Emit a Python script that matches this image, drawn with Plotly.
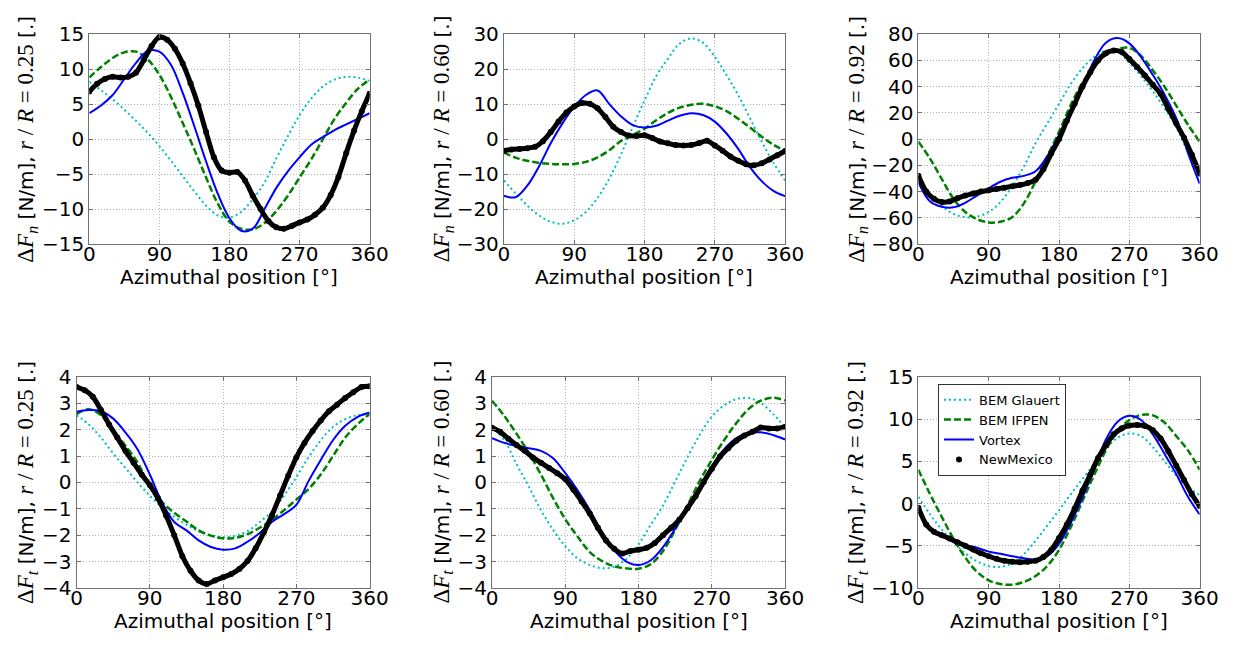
import plotly.graph_objects as go

# ---------------- data ----------------
theta_model = [0, 15, 30, 45, 60, 75, 90, 105, 120, 135, 150, 165, 180,
               195, 210, 225, 240, 255, 270, 285, 300, 315, 330, 345, 360]
theta_exp = [0, 10, 20, 30, 40, 50, 60, 70, 80, 90, 100, 110, 120, 130, 140,
             150, 160, 170, 180, 190, 200, 210, 220, 230, 240, 250, 260, 270,
             280, 290, 300, 310, 320, 330, 340, 350, 360]
xticks = [0, 90, 180, 270, 360]
series_names = ["BEM Glauert", "BEM IFPEN", "Vortex", "NewMexico"]

# Panel 1: dFn, r/R = 0.25
fn25_glauert = [8.2, 7.0, 5.7, 4.2, 2.6, 0.9, -1.0, -3.1, -5.3, -7.5, -9.5, -10.9, -11.2,
                -10.4, -8.6, -6.2, -2.8, 0.4, 3.4, 5.8, 7.5, 8.5, 8.9, 8.8, 8.3]
fn25_ifpen = [8.8, 10.3, 11.6, 12.4, 12.5, 11.4, 9.2, 6.0, 2.3, -1.5, -5.5, -9.2, -11.8,
              -12.8, -12.9, -12.0, -10.3, -8.1, -5.5, -2.9, 0.0, 2.9, 5.2, 7.2, 8.5]
fn25_vortex = [3.7, 4.8, 6.3, 8.6, 10.9, 12.6, 12.5, 10.6, 6.6, 1.8, -3.2, -7.8, -11.3,
               -13.1, -12.8, -10.0, -7.0, -4.6, -2.6, -0.8, 0.3, 1.3, 2.1, 2.9, 3.7]
fn25_exp = [6.8, 7.9, 8.6, 8.9, 8.8, 8.9, 9.5, 11.3, 13.3, 14.6, 14.2, 12.9, 10.8, 8.0, 4.8,
            1.0, -2.6, -4.5, -4.8, -4.7, -5.9, -8.1, -10.0, -11.7, -12.6, -12.8, -12.4,
            -11.9, -11.5, -10.8, -9.8, -8.0, -5.4, -2.0, 1.2, 4.0, 6.5]

# Panel 2: dFn, r/R = 0.60
fn60_glauert = [-11.8, -15.5, -19.0, -21.8, -23.6, -24.2, -23.2, -20.8, -16.8, -11.3, -4.3,
                3.5, 11.0, 18.0, 23.0, 27.3, 28.8, 27.5, 23.5, 18.3, 12.6, 6.0, -0.7, -6.8, -11.8]
fn60_ifpen = [-3.8, -5.3, -6.2, -6.8, -7.1, -7.2, -7.1, -6.5, -5.2, -3.2, -0.5, 1.2, 3.0,
              5.4, 7.5, 9.0, 9.8, 10.1, 9.4, 8.0, 5.8, 3.3, 0.7, -1.6, -3.4]
fn60_vortex = [-16.2, -16.6, -13.3, -7.8, -1.2, 4.5, 9.2, 12.6, 13.9, 10.0, 6.5, 4.0, 3.3,
               3.8, 5.3, 6.7, 7.4, 6.9, 5.0, 1.6, -2.8, -8.0, -12.0, -14.8, -16.3]
fn60_exp = [-3.3, -3.0, -2.8, -2.6, -2.2, -0.6, 2.0, 5.0, 7.6, 9.3, 10.3, 10.1, 8.8, 6.3,
            3.5, 2.0, 1.0, 0.9, 1.1, 0.3, -0.7, -1.2, -1.7, -1.8, -1.7, -1.1, -0.5, -1.8,
            -3.3, -5.0, -6.2, -7.2, -7.5, -6.9, -5.8, -4.6, -3.4]

# Panel 3: dFn, r/R = 0.92
fn92_glauert = [-30, -42, -51, -57, -59.5, -59, -55.5, -48, -36, -21, -3, 12, 27,
                42, 54, 62.5, 67.5, 66.5, 58, 48, 36.5, 23.5, 9, -10, -29]
fn92_ifpen = [-2, -15, -30.5, -45.5, -55.5, -61, -63.5, -63, -59.5, -49, -32, -13, 5.5,
              26, 43, 56, 64, 68.5, 69.5, 63.5, 52.5, 40, 25.5, 11, -2]
fn92_vortex = [-33, -47.5, -51.5, -52, -48.5, -43, -37.5, -32.5, -29.5, -28, -24.5, -13, 3,
               20, 40, 60, 73.5, 77, 73, 62.5, 49, 34, 16, -10.5, -34]
fn92_exp = [-28, -40, -45.5, -48, -47.5, -45, -43, -41.5, -40, -39, -38, -37, -36, -35,
            -33.5, -31, -23, -11, 0, 14, 27, 40, 51, 60, 65.5, 67.5, 66.5, 61, 55, 48.5,
            41.5, 34.5, 23, 12, 1, -12, -26]

# Panel 4: dFt, r/R = 0.25
ft25_glauert = [2.55, 2.2, 1.7, 1.1, 0.55, 0.0, -0.5, -0.95, -1.3, -1.6, -1.85, -2.0, -2.08,
                -2.02, -1.85, -1.5, -1.1, -0.5, 0.2, 0.95, 1.6, 2.1, 2.4, 2.55, 2.6]
ft25_ifpen = [2.6, 2.78, 2.55, 1.95, 1.4, 0.75, -0.15, -0.75, -1.15, -1.48, -1.82, -2.02, -2.12,
              -2.1, -1.96, -1.72, -1.42, -1.05, -0.65, -0.25, 0.3, 1.0, 1.7, 2.2, 2.6]
ft25_vortex = [2.68, 2.75, 2.7, 2.42, 1.9, 1.25, 0.3, -0.75, -1.5, -1.82, -2.2, -2.45, -2.55,
               -2.5, -2.25, -1.92, -1.5, -1.2, -0.85, 0.05, 0.85, 1.6, 2.15, 2.48, 2.65]
ft25_exp = [3.62, 3.5, 3.25, 2.75, 2.2, 1.7, 1.2, 0.75, 0.3, -0.1, -0.6, -1.25, -2.0, -2.8,
            -3.35, -3.72, -3.85, -3.72, -3.6, -3.47, -3.28, -2.98, -2.5, -1.9, -1.25, -0.5,
            0.25, 0.95, 1.5, 1.95, 2.35, 2.7, 2.95, 3.2, 3.42, 3.62, 3.65]

# Panel 5: dFt, r/R = 0.60
ft60_glauert = [2.1, 1.6, 0.7, -0.15, -1.05, -1.8, -2.42, -2.88, -3.13, -3.25, -3.2, -2.9, -2.35,
                -1.6, -0.88, 0.04, 0.95, 1.8, 2.5, 2.92, 3.16, 3.2, 3.02, 2.6, 2.1]
ft60_ifpen = [3.1, 2.52, 1.85, 1.12, 0.3, -0.6, -1.4, -2.05, -2.64, -2.98, -3.18, -3.26, -3.27,
              -3.1, -2.6, -1.8, -0.88, 0.05, 0.86, 1.6, 2.25, 2.78, 3.1, 3.21, 3.11]
ft60_vortex = [1.68, 1.5, 1.38, 1.3, 1.2, 0.92, 0.35, -0.3, -1.05, -1.9, -2.58, -3.0, -3.13,
               -2.95, -2.45, -1.75, -0.95, -0.2, 0.6, 1.25, 1.68, 1.86, 1.9, 1.8, 1.63]
ft60_exp = [2.07, 1.92, 1.66, 1.42, 1.2, 0.95, 0.75, 0.55, 0.35, 0.12, -0.28, -0.72, -1.18,
            -1.72, -2.2, -2.52, -2.7, -2.6, -2.55, -2.48, -2.3, -2.0, -1.72, -1.42, -0.98,
            -0.52, 0.02, 0.52, 0.98, 1.3, 1.58, 1.78, 1.92, 2.08, 2.05, 2.05, 2.1]

# Panel 6: dFt, r/R = 0.92
ft92_glauert = [0.8, -1.3, -3.1, -4.6, -5.9, -6.85, -7.4, -7.5, -7.1, -6.0, -4.4, -2.6, -0.8,
                1.1, 2.9, 4.7, 6.5, 7.8, 8.3, 8.0, 6.7, 5.0, 3.3, 2.0, 1.0]
ft92_ifpen = [4.0, 1.1, -1.6, -4.2, -6.4, -8.1, -9.1, -9.55, -9.62, -9.3, -8.6, -7.4, -5.5,
              -2.8, 0.3, 3.4, 6.3, 8.6, 9.9, 10.5, 10.45, 9.6, 8.0, 6.3, 4.0]
ft92_vortex = [-1.0, -2.8, -3.9, -4.45, -4.9, -5.25, -5.7, -5.95, -6.25, -6.5, -6.65, -6.25, -4.8,
               -2.3, 0.7, 4.1, 7.6, 9.7, 10.4, 9.9, 8.2, 5.9, 3.5, 0.8, -1.3]
ft92_exp = [-0.5, -2.5, -3.35, -3.75, -4.15, -4.6, -5.0, -5.45, -5.9, -6.25, -6.55, -6.78,
            -6.9, -6.95, -6.9, -6.78, -6.35, -5.5, -4.1, -2.5, -0.6, 1.5, 3.4, 5.4, 6.9, 8.2,
            8.9, 9.25, 9.3, 9.2, 8.7, 7.7, 6.2, 4.5, 2.8, 1.1, -0.3]

comp_labels = ["n", "n", "n", "t", "t", "t"]
rr_labels = ["0.25", "0.60", "0.92", "0.25", "0.60", "0.92"]
y_ranges = [[-15, 15], [-30, 30], [-80, 80], [-4, 4], [-4, 4], [-10, 15]]
y_dticks = [5, 10, 20, 1, 1, 5]
panel_data = [
    (fn25_glauert, fn25_ifpen, fn25_vortex, fn25_exp),
    (fn60_glauert, fn60_ifpen, fn60_vortex, fn60_exp),
    (fn92_glauert, fn92_ifpen, fn92_vortex, fn92_exp),
    (ft25_glauert, ft25_ifpen, ft25_vortex, ft25_exp),
    (ft60_glauert, ft60_ifpen, ft60_vortex, ft60_exp),
    (ft92_glauert, ft92_ifpen, ft92_vortex, ft92_exp),
]

# ---------------- layout geometry (pixels) ----------------
W, H = 1251, 649
boxes = [  # left, right, top, bottom
    (85, 371, 23, 241), (508, 795, 23, 241), (931, 1218, 23, 241),
    (72, 371, 379, 598), (496, 795, 379, 598), (931, 1218, 379, 598),
]
ytitle_offset = [63, 62, 62, 50, 50, 62]

FONT = "DejaVu Sans"
SERIF = "Liberation Serif"
frame_col = "#707070"

fig = go.Figure()
layout = dict(
    width=W, height=H, margin=dict(l=0, r=0, t=0, b=0),
    paper_bgcolor="white", plot_bgcolor="white",
    font=dict(family=FONT, size=20, color="black"),
    legend=dict(x=951 / W, y=1 - 386 / H, xanchor="left", yanchor="top",
                bgcolor="white", bordercolor="#333333", borderwidth=1,
                font=dict(family=FONT, size=13, color="black"),
                tracegroupgap=0, itemwidth=30),
)
annotations = []

for i in range(6):
    k = i + 1
    l, r, t, b = boxes[i]
    xa = "x" if k == 1 else f"x{k}"
    ya = "y" if k == 1 else f"y{k}"
    axis_common = dict(showgrid=True, gridcolor="#b4b4b4", griddash="1px,2px", gridwidth=1,
                       showline=True, linecolor=frame_col, linewidth=1, mirror="ticks",
                       ticks="inside", ticklen=4, tickcolor=frame_col, zeroline=False,
                       tickfont=dict(family=FONT, size=20, color="black"))
    layout[f"xaxis{k}"] = dict(domain=[l / W, r / W], anchor=ya, range=[0, 360],
                               tickmode="array", tickvals=xticks, ticklabelstandoff=-8,
                               **axis_common)
    layout[f"yaxis{k}"] = dict(domain=[1 - b / H, 1 - t / H], anchor=xa,
                               range=y_ranges[i], dtick=y_dticks[i], tick0=0, **axis_common)

    g, f, v, e = panel_data[i]
    show = (k == 6)
    fig.add_trace(go.Scatter(x=theta_model, y=g, xaxis=xa, yaxis=ya, mode="lines",
                             name=series_names[0], showlegend=show, legendgroup="g",
                             line=dict(color="#00BFBF", width=2, dash="2px,3px", shape="spline")))
    fig.add_trace(go.Scatter(x=theta_model, y=f, xaxis=xa, yaxis=ya, mode="lines",
                             name=series_names[1], showlegend=show, legendgroup="f",
                             line=dict(color="#008000", width=2.5, dash="7px,3px", shape="spline")))
    fig.add_trace(go.Scatter(x=theta_model, y=v, xaxis=xa, yaxis=ya, mode="lines",
                             name=series_names[2], showlegend=show, legendgroup="v",
                             line=dict(color="#0000FF", width=2, shape="spline")))
    fig.add_trace(go.Scatter(x=theta_exp, y=e, xaxis=xa, yaxis=ya, mode="lines",
                             name=series_names[3], showlegend=False, legendgroup="e",
                             line=dict(color="black", width=5, shape="spline", smoothing=0.7)))
    fig.add_trace(go.Scatter(x=theta_exp, y=e, xaxis=xa, yaxis=ya, mode="markers",
                             name=series_names[3], showlegend=show, legendgroup="e",
                             marker=dict(color="black", size=6)))

    # y-axis title
    ytxt = (f'<span style="font-family:{SERIF};font-size:23px">Δ<i>F</i><sub><i>{comp_labels[i]}</i></sub></span>'
            f' [N/m], <span style="font-family:{SERIF};font-size:23px"><i>r</i> / <i>R</i> = {rr_labels[i]}</span> [.]')
    annotations.append(dict(text=ytxt, xref="paper", yref="paper",
                            x=(l - ytitle_offset[i]) / W, y=1 - (t + b) / 2 / H,
                            xanchor="center", yanchor="middle", textangle=-90,
                            showarrow=False, font=dict(family=FONT, size=20, color="black")))
    # x-axis title
    annotations.append(dict(text="Azimuthal position [°]", xref="paper", yref="paper",
                            x=(l + r) / 2 / W, y=1 - (b + 34) / H,
                            xanchor="center", yanchor="middle", showarrow=False,
                            font=dict(family=FONT, size=20, color="black")))

layout["annotations"] = annotations
fig.update_layout(**layout)
fig.write_html("out.html")
